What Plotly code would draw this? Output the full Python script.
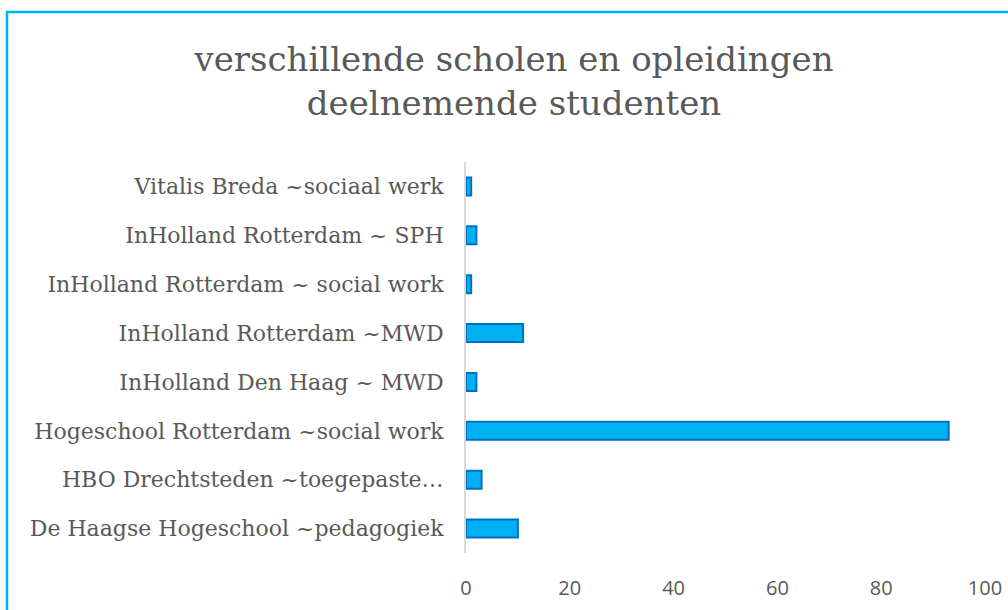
import plotly.graph_objects as go

categories = [
    "De Haagse Hogeschool ~pedagogiek",
    "HBO Drechtsteden ~toegepaste…",
    "Hogeschool Rotterdam ~social work",
    "InHolland Den Haag ~ MWD",
    "InHolland Rotterdam ~MWD",
    "InHolland Rotterdam ~ social work",
    "InHolland Rotterdam ~ SPH",
    "Vitalis Breda ~sociaal werk",
]
values = [10, 3, 93, 2, 11, 1, 2, 1]
x_ticks = [0, 20, 40, 60, 80, 100]

W, H = 1008, 610
L, R, T, B = 466, 23, 162, 57
pw = W - L - R
ph = H - T - B

fig = go.Figure(go.Bar(
    y=categories, x=values, orientation="h",
    marker=dict(color="#00B0F0", line=dict(color="#0070C0", width=2)),
    width=0.37,
))

fig.update_layout(
    width=W, height=H,
    margin=dict(l=L, r=R, t=T, b=B, autoexpand=False),
    paper_bgcolor="white", plot_bgcolor="white",
    showlegend=False,
    title=dict(
        text="verschillende scholen en opleidingen<br>deelnemende studenten",
        x=514 / W, xanchor="center", xref="container",
        y=1 - 71 / H, yanchor="top", yref="container",
        font=dict(family="DejaVu Serif", size=34, color="#595959"),
    ),
    xaxis=dict(
        range=[0, 100], tickvals=x_ticks, showgrid=False, zeroline=False,
        showline=False, ticks="outside", ticklen=17, tickcolor="rgba(0,0,0,0)",
        tickfont=dict(family="Open Sans", size=20, color="#595959"),
    ),
    yaxis=dict(
        showgrid=False, zeroline=False, showline=True, linecolor="#D9D9D9", linewidth=2,
        ticks="outside", ticklen=16, tickcolor="rgba(0,0,0,0)",
        tickfont=dict(family="DejaVu Serif", size=22, color="#595959"),
        range=[-0.5, 7.5],
    ),
    shapes=[dict(
        type="rect", xref="paper", yref="paper",
        x0=(7 - L) / pw, x1=(1100 - L) / pw,
        y0=(H - B - 700) / ph, y1=(H - B - 12) / ph,
        line=dict(color="#00B0F0", width=2.5), fillcolor="rgba(0,0,0,0)", layer="below",
    )],
)

fig.write_html("out.html", config={"displayModeBar": False},
               post_script="document.body.style.margin='0';")
